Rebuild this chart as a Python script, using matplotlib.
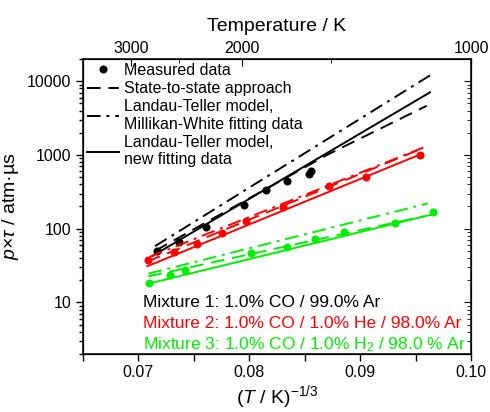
import numpy as np
import matplotlib
matplotlib.use('Agg')
import matplotlib.pyplot as plt
from matplotlib.lines import Line2D
from matplotlib.ticker import MultipleLocator, LogLocator, NullFormatter

plt.rcParams['font.family'] = ['Liberation Sans', 'DejaVu Sans']
plt.rcParams['mathtext.fontset'] = 'custom'
plt.rcParams['mathtext.rm'] = 'Liberation Sans'
plt.rcParams['mathtext.it'] = 'Liberation Sans:italic'

# measured p*tau (atm us) vs T^(-1/3)
x_mix1 = [0.07171, 0.07367, 0.0761, 0.07953, 0.08151, 0.08344, 0.08535, 0.08557]
y_mix1 = [50.5, 65.5, 105, 207, 338, 439, 558, 600]
x_mix2 = [0.07085, 0.07322, 0.07532, 0.07755, 0.07968, 0.08307, 0.08717, 0.0905, 0.09543]
y_mix2 = [37.3, 49, 62.4, 88, 129, 199, 379, 508, 1000]
x_mix3 = [0.07096, 0.07286, 0.07424, 0.08013, 0.08338, 0.08593, 0.08858, 0.09315, 0.09655]
y_mix3 = [18.4, 23.3, 27.2, 47, 57.3, 73.6, 90.8, 118, 171]

# model curves: state-to-state, Landau-Teller (Millikan-White), Landau-Teller (new fit)
sts1_x = [0.0715, 0.0870, 0.0960]
sts1_y = [50, 1000, 4640]
mw1_x = [0.0715, 0.0964]
mw1_y = [58, 12250]
new1_x = [0.0713, 0.0963]
new1_y = [43, 7060]

sts2_x = [0.0708, 0.0952]
sts2_y = [35.8, 1160]
mw2_x = [0.0710, 0.0957]
mw2_y = [41.5, 1260]
new2_x = [0.0708, 0.0953]
new2_y = [31, 1000]

sts3_x = [0.0709, 0.0958]
sts3_y = [22.6, 148]
mw3_x = [0.0709, 0.0961]
mw3_y = [24.6, 220]
new3_x = [0.0708, 0.0965]
new3_y = [17.8, 156]

mixtures = [
    ('black', x_mix1, y_mix1, (sts1_x, sts1_y), (mw1_x, mw1_y), (new1_x, new1_y)),
    ('#ff0000', x_mix2, y_mix2, (sts2_x, sts2_y), (mw2_x, mw2_y), (new2_x, new2_y)),
    ('#00f000', x_mix3, y_mix3, (sts3_x, sts3_y), (mw3_x, mw3_y), (new3_x, new3_y)),
]
mix_labels = ['Mixture 1: 1.0% CO / 99.0% Ar',
              'Mixture 2: 1.0% CO / 1.0% He / 98.0% Ar',
              'Mixture 3: 1.0% CO / 1.0% H$_2$ / 98.0 % Ar']

temp_ticks = [3000, 2000, 1000]
temp_minor = [2500, 1500]

dash = (0, (7, 4))
dashdot = (0, (7, 3, 1.5, 3))
lw = 1.4

fig = plt.figure(figsize=(4.9, 4.12), dpi=100)
ax = fig.add_axes([83/490, 1-354/412, 388/490, 295/412])

for col, xm, ym, sts, mw, new in mixtures:
    ax.plot(*sts, color=col, ls=dash, lw=lw)
    ax.plot(*mw, color=col, ls=dashdot, lw=lw)
    ax.plot(*new, color=col, ls='-', lw=lw)
    ax.plot(xm, ym, 'o', color=col, ms=5.8, mec='none')

ax.set_yscale('log')
ax.set_xlim(0.065, 0.10)
ax.set_ylim(2, 20000)
ax.xaxis.set_major_locator(MultipleLocator(0.01))
ax.xaxis.set_minor_locator(MultipleLocator(0.005))
ax.xaxis.set_major_formatter(matplotlib.ticker.FormatStrFormatter('%.2f'))
ax.yaxis.set_major_locator(LogLocator(10, numticks=10))
ax.yaxis.set_minor_locator(LogLocator(10, subs=np.arange(2, 10), numticks=10))
ax.yaxis.set_minor_formatter(NullFormatter())
ax.yaxis.set_major_formatter(matplotlib.ticker.FuncFormatter(lambda v, p: '%d' % v))

ax.tick_params(axis='both', which='both', labelsize=11.5, width=1)
ax.tick_params(axis='x', which='both', direction='out', length=5, top=False, pad=3)
ax.tick_params(axis='y', which='major', direction='out', length=5, right=False)
ax.tick_params(axis='y', which='minor', direction='out', length=3, right=False)
for s in ax.spines.values():
    s.set_linewidth(1.1)

# mirrored right-hand ticks point inward
axr = ax.twinx()
axr.set_yscale('log')
axr.set_ylim(ax.get_ylim())
axr.yaxis.set_major_locator(LogLocator(10, numticks=10))
axr.yaxis.set_minor_locator(LogLocator(10, subs=np.arange(2, 10), numticks=10))
axr.tick_params(axis='y', which='major', direction='in', length=5, labelright=False)
axr.tick_params(axis='y', which='minor', direction='in', length=3, labelright=False)

# temperature scale on top
axt = ax.twiny()
axt.set_xlim(ax.get_xlim())
axt.set_xticks([t ** (-1/3) for t in temp_ticks])
axt.set_xticklabels([str(t) for t in temp_ticks])
axt.set_xticks([t ** (-1/3) for t in temp_minor], minor=True)
axt.tick_params(axis='x', which='major', direction='in', length=5, labelsize=11.5, pad=2)
axt.tick_params(axis='x', which='minor', direction='in', length=3)
axt.set_xlabel('Temperature / K', fontsize=14, labelpad=7)

ax.set_xlabel('($T$ / K)$^{-1/3}$', fontsize=14, labelpad=2)
ax.set_ylabel('$p$×$\\tau$ / atm·µs', fontsize=14, labelpad=4)

handles = [
    Line2D([], [], color='black', marker='o', ls='none', ms=5.8, mec='none'),
    Line2D([], [], color='black', ls=dash, lw=lw),
    Line2D([], [], color='black', ls=dashdot, lw=lw),
    Line2D([], [], color='black', ls='-', lw=lw),
]
labels = ['Measured data', 'State-to-state approach',
          'Landau-Teller model,\nMillikan-White fitting data',
          'Landau-Teller model,\nnew fitting data']
ax.legend(handles, labels, loc='upper left', frameon=False, fontsize=11.5,
          handlelength=2.0, handletextpad=0.3, borderaxespad=0.1, borderpad=0.15,
          labelspacing=0.2)

for i, (lab, m) in enumerate(zip(mix_labels, mixtures)):
    ax.text(0.155, 0.175 - i * 0.072, lab, color=m[0], fontsize=12.5,
            transform=ax.transAxes, va='center')

fig.savefig('out.png', dpi=100)
